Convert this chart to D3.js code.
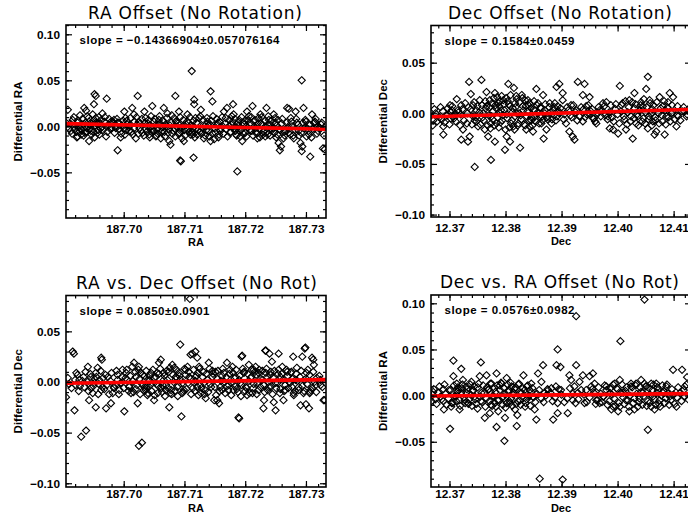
<!DOCTYPE html>
<html><head><meta charset="utf-8">
<script src="https://cdn.jsdelivr.net/npm/d3@7"></script>
<style>body{margin:0;background:#fff}svg{display:block}</style>
</head><body>
<svg id="c" width="688" height="518"></svg>
<script>
// ---------- DATA ----------
const titles = ["RA Offset (No Rotation)", "Dec Offset (No Rotation)", "RA vs. Dec Offset (No Rot)", "Dec vs. RA Offset (No Rot)"];
const xLabels = ["RA", "Dec", "RA", "Dec"];
const yLabels = ["Differential RA", "Differential Dec", "Differential Dec", "Differential RA"];
const slopeLabels = ["slope = \u22120.14366904\u00b10.057076164", "slope = 0.1584\u00b10.0459", "slope = 0.0850\u00b10.0901", "slope = 0.0576\u00b10.0982"];
const fitSlopes = [-0.14366904, 0.1584, 0.0850, 0.0576];
const fitZeroAt = [187.7113, 12.3886, 187.7058, 12.3750];
const xDomains = [[187.6905, 187.7333], [12.3667, 12.4131], [187.6905, 187.7333], [12.3667, 12.4131]];
const yDomains = [[-0.0996, 0.1101], [-0.1024, 0.0867], [-0.1037, 0.0854], [-0.0990, 0.1090]];
const raTicks = [187.70, 187.71, 187.72, 187.73];
const decTicks = [12.37, 12.38, 12.39, 12.40, 12.41];
const dRaTicks = [-0.05, 0.00, 0.05, 0.10];
const dDecTicks = [-0.10, -0.05, 0.00, 0.05];

const raOffsetPts = [
[187.6908,0.018],[187.6905,0.004],[187.6910,-0.002],[187.6916,0.007],[187.6913,-0.005],[187.6924,0.004],[187.6927,-0.005],[187.6930,-0.009],[187.6924,-0.011],[187.6935,0.020],[187.6938,0.017],[187.6940,0.011],[187.6943,0.005],[187.6939,-0.002],[187.6943,-0.016],[187.6946,-0.005],[187.6949,0.013],[187.6951,0.024],[187.6954,0.033],[187.6954,0.009],[187.6957,0.002],[187.6960,-0.009],[187.6962,-0.002],[187.6965,0.014],[187.6968,0.005],[187.6971,-0.011],[187.6972,0.030],[187.6979,0.005],[187.6984,0.007],[187.6987,-0.002],[187.6990,0.004],[187.6990,-0.026],[187.6995,-0.012],[187.7001,0.016],[187.7003,0.009],[187.7006,0.002],[187.7009,-0.005],[187.7014,0.020],[187.7017,0.013],[187.7017,-0.002],[187.7020,-0.013],[187.7025,0.005],[187.7028,-0.005],[187.7034,0.016],[187.7036,0.009],[187.7039,0.000],[187.7042,-0.009],[187.7047,0.022],[187.7050,0.005],[187.7053,-0.011],[187.7049,-0.005],[187.7055,-0.002],[187.7058,0.007],[187.7061,-0.013],[187.7064,-0.005],[187.7066,0.020],[187.7069,0.002],[187.7072,0.014],[187.7077,-0.020],[187.7075,-0.016],[187.7083,0.009],[187.7086,0.005],[187.7088,0.000],[187.7091,0.016],[187.7094,-0.005],[187.7096,-0.013],[187.7099,-0.016],[187.7093,-0.037],[187.7094,-0.038],[187.7105,0.013],[187.7107,0.004],[187.7110,-0.009],[187.7113,-0.002],[187.7115,-0.034],[187.7116,0.024],[187.7118,0.009],
[187.6952,0.035],[187.7023,0.033],[187.7085,0.033],[187.7112,0.060],[187.7143,0.038],[187.7293,0.050],[187.7293,-0.027],
[187.7116,0.029],[187.7127,0.018],[187.7124,0.009],[187.7130,-0.002],[187.7121,-0.009],[187.7132,-0.013],[187.7146,0.027],[187.7138,0.005],[187.7140,-0.005],[187.7143,-0.016],[187.7149,-0.014],[187.7154,0.002],[187.7157,-0.009],[187.7160,-0.002],[187.7165,0.016],[187.7168,0.009],[187.7170,0.020],[187.7173,0.000],[187.7180,0.024],[187.7179,0.005],[187.7181,0.013],[187.7184,-0.005],[187.7187,-0.002],[187.7190,0.007],[187.7192,-0.011],[187.7195,-0.016],[187.7198,0.002],[187.7203,0.016],[187.7206,0.011],[187.7212,0.022],[187.7209,-0.005],[187.7214,0.005],[187.7217,-0.002],[187.7220,-0.013],[187.7222,0.009],[187.7225,0.013],[187.7228,0.002],[187.7231,-0.005],[187.7233,-0.011],[187.7235,0.020],[187.7239,0.007],[187.7242,-0.002],[187.7247,0.013],[187.7250,0.004],[187.7253,-0.009],[187.7255,-0.018],[187.7257,-0.026],[187.7259,-0.022],[187.7263,-0.013],[187.7266,-0.005],[187.7269,0.020],[187.7272,0.019],[187.7275,0.009],[187.7277,0.000],[187.7280,-0.013],[187.7283,0.016],[187.7285,0.004],[187.7288,-0.005],[187.7291,-0.018],[187.7294,-0.022],[187.7296,0.020],[187.7299,0.007],[187.7302,-0.002],[187.7305,-0.009],[187.7307,-0.033],[187.7310,0.013],[187.7313,0.004],[187.7315,0.005],[187.7326,0.004],[187.7328,-0.024],[187.7187,-0.049],[187.7314,0.004],[187.7323,-0.002],[187.7331,-0.025],
[187.6920,-0.003],[187.6922,-0.006],[187.6926,-0.001],[187.6931,-0.004],[187.6933,0.002],[187.6936,-0.007],[187.6941,0.000],[187.6944,-0.003],[187.6948,0.003],[187.6950,-0.006],[187.6953,0.001],[187.6958,-0.004],[187.6961,0.003],[187.6964,-0.001],
[187.6975,0.001],[187.6980,-0.001],[187.6983,0.003],[187.6988,0.000],[187.6993,-0.003],[187.6997,0.001],[187.7000,-0.002],
[187.7004,-0.004],[187.7010,0.001],[187.7013,-0.006],[187.7022,0.002],[187.7026,-0.002],[187.7031,-0.007],
[187.7036,-0.003],[187.7040,0.003],[187.7044,-0.001],[187.7046,-0.006],[187.7052,0.001],[187.7056,-0.008],[187.7060,0.003],[187.7063,-0.001],[187.7067,-0.006],[187.7070,0.000],[187.7074,-0.003],[187.7078,0.004],[187.7080,-0.008],[187.7084,-0.002],[187.7089,0.003],[187.7092,-0.007],[187.7097,0.000],[187.7100,-0.004],[187.7103,0.002],[187.7108,-0.006],[187.7111,0.001],[187.7114,-0.009],[187.7119,-0.003],[187.7122,0.003],[187.7125,-0.006],
[187.7133,0.000],[187.7136,-0.004],[187.7142,0.002],[187.7146,-0.008],[187.7150,-0.002],[187.7155,0.004],[187.7159,-0.005],[187.7163,0.000],[187.7169,-0.003],
[187.7175,-0.007],[187.7177,0.002],[187.7182,-0.002],[187.7185,-0.009],[187.7189,0.001],[187.7193,-0.004],[187.7196,0.004],[187.7200,-0.007],[187.7204,-0.001],[187.7208,0.003],[187.7211,-0.005],[187.7215,0.000],[187.7219,-0.008],[187.7223,-0.003],[187.7226,0.003],[187.7230,-0.006],[187.7234,0.000],[187.7237,-0.009],[187.7240,0.002],[187.7244,-0.004],[187.7248,-0.007],[187.7252,0.001],[187.7256,-0.003],[187.7260,0.003],[187.7264,-0.006],
[187.7270,-0.001],[187.7274,-0.009],[187.7282,-0.004],[187.7287,0.002],[187.7292,-0.007],[187.7297,-0.002],[187.7300,0.005],[187.7304,-0.005],[187.7311,-0.003],[187.7318,-0.008],[187.7322,-0.001],
[187.6912,0.003],[187.6915,-0.008],[187.6918,0.010],[187.6921,0.001],[187.6923,-0.012],[187.6925,0.006],[187.6928,0.012],[187.6929,-0.002],[187.6932,0.008],[187.6934,-0.010],[187.6937,0.004],[187.6939,-0.006],[187.6942,0.009],[187.6945,0.001],[187.6947,-0.009],[187.6950,0.006],[187.6952,-0.012],[187.6955,0.004],[187.6957,-0.007],[187.6959,0.010],[187.6963,0.007],[187.6966,-0.004],[187.6969,0.010],[187.6973,-0.006],[187.6976,0.008],[187.6978,-0.003],[187.6982,0.005],[187.6985,-0.007],[187.6989,0.008],[187.6992,0.004],[187.6996,-0.008],[187.6999,0.006],[187.7002,-0.009],[187.7005,0.006],[187.7008,-0.001],[187.7011,0.009],[187.7015,-0.009],[187.7018,0.005],[187.7021,0.010],[187.7024,-0.008],[187.7027,0.003],[187.7030,0.008],[187.7033,-0.010],[187.7035,0.004],[187.7038,-0.006],[187.7041,0.007],[187.7043,-0.012],[187.7045,0.011],[187.7048,-0.003],[187.7051,0.008],[187.7054,-0.010],[187.7057,0.002],[187.7059,0.011],[187.7062,-0.006],[187.7065,0.006],[187.7068,-0.011],[187.7071,0.009],[187.7073,-0.007],[187.7076,0.001],[187.7079,0.012],[187.7082,-0.005],[187.7085,-0.011],[187.7087,0.006],[187.7090,-0.008],[187.7093,0.010],[187.7095,-0.002],[187.7098,0.007],[187.7101,-0.010],[187.7104,0.005],[187.7106,-0.003],[187.7109,0.010],[187.7112,-0.006],[187.7115,0.006],[187.7117,-0.012],[187.7120,0.004],[187.7123,-0.004],[187.7126,0.011],[187.7128,-0.008],[187.7131,0.007],[187.7134,-0.010],[187.7137,0.009],[187.7139,0.001],[187.7141,-0.011],[187.7144,0.006],[187.7147,0.011],[187.7151,-0.007],[187.7153,0.008],[187.7156,-0.012],[187.7158,0.005],[187.7162,0.010],[187.7164,-0.008],[187.7167,0.003],[187.7171,-0.011],[187.7174,0.007],[187.7176,-0.006],[187.7178,0.011],[187.7183,0.008],[187.7186,-0.010],[187.7188,0.004],[187.7191,-0.002],[187.7194,0.010],[187.7197,-0.008],[187.7199,0.006],[187.7202,-0.011],[187.7205,0.007],[187.7207,-0.004],[187.7210,0.010],[187.7213,-0.010],[187.7216,0.007],[187.7218,-0.006],[187.7221,0.003],[187.7224,-0.012],[187.7227,0.010],[187.7229,-0.009],[187.7232,0.006],[187.7236,-0.006],[187.7238,0.011],[187.7241,-0.010],[187.7243,0.006],[187.7246,-0.002],[187.7249,0.009],[187.7251,-0.012],[187.7254,0.007],[187.7258,-0.004],[187.7261,0.008],[187.7265,-0.010],[187.7268,0.004],[187.7271,-0.007],[187.7276,0.005],[187.7279,-0.010],[187.7284,0.008],[187.7289,-0.010],[187.7295,0.004],[187.7301,-0.011],[187.7306,0.002],[187.7309,-0.012],[187.7316,0.008],[187.7320,-0.005],[187.7325,0.002],[187.7330,-0.010]
];

const decOffsetPts = [
[12.3671,-0.007],[12.3689,-0.013],[12.3689,-0.021],[12.3701,0.008],[12.3704,0.003],[12.3713,0.014],[12.3710,0.000],[12.3707,-0.003],[12.3721,0.008],[12.3721,-0.026],[12.3724,-0.016],[12.3733,-0.028],[12.3736,-0.023],[12.3735,0.031],[12.3738,0.019],[12.3742,0.008],[12.3745,-0.007],[12.3745,-0.053],[12.3748,0.003],[12.3751,-0.013],[12.3754,0.013],[12.3757,0.033],[12.3760,0.000],[12.3763,-0.016],[12.3766,0.021],[12.3769,-0.023],[12.3766,0.007],[12.3772,0.013],[12.3774,-0.046],[12.3775,-0.003],[12.3781,0.020],[12.3781,-0.028],[12.3784,-0.010],[12.3787,0.010],[12.3790,0.000],[12.3792,0.003],[12.3796,0.013],[12.3799,-0.036],[12.3802,-0.023],[12.3805,0.029],[12.3808,-0.028],[12.3808,0.007],[12.3811,-0.007],[12.3814,-0.013],[12.3815,0.025],[12.3817,0.010],[12.3820,0.000],[12.3823,-0.010],[12.3826,-0.034],[12.3829,0.018],[12.3832,0.003],[12.3835,0.013],[12.3838,-0.003],[12.3841,0.008],[12.3843,-0.013],[12.3846,-0.007],[12.3849,-0.018],[12.3852,0.003],[12.3855,0.024],[12.3858,0.010],[12.3861,-0.003],[12.3864,-0.010],[12.3867,0.018],[12.3868,-0.025],[12.3870,0.000],[12.3873,-0.016],[12.3876,-0.003],[12.3879,0.010],[12.3882,-0.010],[12.3885,0.003],[12.3888,0.010],[12.3891,0.026],
[12.3670,-0.012],[12.3686,-0.006],[12.3696,-0.002],[12.3702,-0.005],
[12.3896,0.029],[12.3902,0.020],[12.3902,0.013],[12.3893,0.007],[12.3890,-0.007],[12.3896,0.000],[12.3908,-0.010],[12.3914,-0.018],[12.3920,-0.023],[12.3923,-0.026],[12.3929,0.031],[12.3941,0.029],[12.3938,0.018],[12.3950,0.016],[12.3917,0.008],[12.3926,0.003],[12.3932,-0.003],[12.3938,-0.008],[12.3944,0.007],[12.3950,0.000],[12.3956,-0.005],[12.3962,-0.010],[12.3968,0.003],[12.3974,0.010],[12.3980,0.011],[12.3983,-0.003],[12.3986,-0.015],[12.3992,-0.016],[12.4001,-0.020],[12.4004,0.027],[12.4009,0.010],[12.4015,-0.016],[12.4021,0.013],[12.4027,-0.025],[12.4030,0.020],[12.4033,-0.010],[12.4036,-0.003],[12.4039,0.003],[12.4042,0.011],[12.4045,0.007],[12.4051,0.024],[12.4054,0.036],[12.4054,-0.015],[12.4057,0.013],[12.4060,0.000],[12.4063,-0.008],[12.4066,-0.021],[12.4069,-0.018],[12.4075,0.016],[12.4081,0.007],[12.4084,-0.021],[12.4087,-0.003],[12.4090,0.011],[12.4093,0.020],[12.4096,0.000],[12.4099,0.016],[12.4105,-0.013],[12.4108,-0.003],[12.4119,0.002],[12.4123,-0.003],
[12.3665,-0.003],[12.3675,0.000],[12.3682,-0.004],[12.3688,0.002],[12.3695,-0.002],[12.3702,0.001],[12.3708,-0.005],[12.3715,0.003],[12.3720,-0.001],[12.3726,-0.007],[12.3732,0.000],[12.3738,0.004],[12.3742,-0.003],[12.3748,-0.008],[12.3753,0.001],[12.3759,-0.004],[12.3765,0.005],[12.3770,-0.002],[12.3774,-0.010],[12.3778,0.002],[12.3782,0.008],[12.3786,-0.004],[12.3790,0.012],[12.3794,-0.007],[12.3798,0.003],[12.3802,-0.001],[12.3806,0.009],[12.3810,-0.010],[12.3813,0.005],[12.3817,-0.003],[12.3820,0.014],[12.3824,0.000],[12.3828,-0.006],[12.3831,0.007],[12.3835,-0.012],[12.3839,0.002],[12.3843,0.010],[12.3846,-0.004],[12.3850,0.004],[12.3854,-0.008],[12.3858,0.000],[12.3862,0.006],[12.3865,-0.003],[12.3870,0.003],[12.3875,-0.006],[12.3880,0.001],[12.3886,-0.002],[12.3895,0.002],[12.3905,-0.001],[12.3912,0.003],[12.3918,-0.004],[12.3925,0.001],[12.3932,-0.003],[12.3939,0.004],[12.3945,-0.001],[12.3952,0.002],[12.3958,-0.005],[12.3965,0.000],[12.3972,0.003],[12.3978,-0.002],[12.3985,0.001],[12.3990,-0.004],[12.3996,0.004],[12.4000,-0.001],[12.4006,0.002],[12.4012,-0.006],[12.4018,0.001],[12.4024,-0.003],[12.4030,0.005],[12.4035,-0.001],[12.4040,0.003],[12.4046,-0.005],[12.4050,0.001],[12.4056,-0.003],[12.4062,0.004],[12.4068,-0.007],[12.4073,0.000],[12.4079,-0.002],[12.4085,0.003],[12.4091,-0.004],[12.4098,0.001],[12.4106,-0.002],[12.4115,0.002],[12.4124,-0.001],
[12.3673,0.004],[12.3678,-0.008],[12.3684,0.006],[12.3691,-0.009],[12.3697,0.005],[12.3700,-0.011],[12.3705,0.007],[12.3711,-0.008],[12.3716,0.001],[12.3719,-0.012],[12.3723,0.004],[12.3728,0.010],[12.3731,-0.010],[12.3734,0.006],[12.3740,-0.011],[12.3744,0.011],[12.3747,-0.004],[12.3750,0.007],[12.3755,-0.011],[12.3758,0.008],[12.3761,-0.007],[12.3764,0.012],[12.3768,-0.012],[12.3771,0.006],[12.3773,-0.015],[12.3776,0.010],[12.3777,-0.006],[12.3779,0.015],[12.3780,-0.012],[12.3783,0.005],[12.3785,0.016],[12.3788,-0.014],[12.3789,0.007],[12.3791,-0.009],[12.3793,0.017],[12.3795,-0.002],[12.3797,0.009],[12.3800,-0.016],[12.3801,0.015],[12.3803,-0.005],[12.3804,0.012],[12.3807,-0.014],[12.3809,0.018],[12.3812,0.001],[12.3816,-0.016],[12.3818,0.006],[12.3819,0.017],[12.3822,-0.012],[12.3825,0.011],[12.3827,-0.002],[12.3830,0.015],[12.3833,-0.011],[12.3836,0.007],[12.3837,-0.016],[12.3840,0.013],[12.3842,-0.007],[12.3845,0.005],[12.3848,-0.012],[12.3851,0.012],[12.3853,-0.003],[12.3856,0.008],[12.3860,-0.010],[12.3863,0.005],[12.3866,-0.007],[12.3871,0.009],[12.3874,-0.004],[12.3878,0.006],[12.3883,-0.006],[12.3887,0.006],[12.3892,-0.003],[12.3898,0.005],[12.3904,-0.006],[12.3910,0.006],[12.3916,-0.002],[12.3921,0.008],[12.3928,-0.007],[12.3935,0.006],[12.3942,-0.004],[12.3948,0.008],[12.3955,0.004],[12.3960,-0.008],[12.3966,0.006],[12.3970,-0.003],[12.3976,0.007],[12.3982,-0.006],[12.3988,0.008],[12.3993,-0.008],[12.3997,0.009],[12.4003,-0.010],[12.4007,0.008],[12.4011,-0.003],[12.4014,0.012],[12.4017,-0.011],[12.4020,0.006],[12.4023,-0.008],[12.4026,0.011],[12.4029,-0.005],[12.4032,0.009],[12.4037,-0.012],[12.4041,0.008],[12.4044,-0.008],[12.4047,0.014],[12.4049,-0.010],[12.4052,0.006],[12.4055,-0.006],[12.4058,0.010],[12.4061,-0.012],[12.4064,0.008],[12.4067,-0.004],[12.4070,0.011],[12.4074,-0.010],[12.4077,0.005],[12.4080,-0.008],[12.4083,0.012],[12.4086,-0.011],[12.4089,0.006],[12.4094,-0.008],[12.4097,0.008],[12.4102,-0.006],[12.4107,0.007],[12.4112,-0.007],[12.4118,0.006],[12.4126,0.004]
];

const raDecPts = [
[187.6905,-0.015],[187.6916,0.030],[187.6918,0.028],[187.6919,-0.028],[187.6924,0.007],[187.6927,0.002],[187.6921,-0.003],[187.6930,-0.054],[187.6938,-0.048],[187.6935,-0.005],[187.6941,0.015],[187.6943,-0.018],[187.6946,0.005],[187.6949,-0.011],[187.6952,-0.001],[187.6954,-0.025],[187.6954,0.009],[187.6957,0.014],[187.6960,0.002],[187.6963,0.024],[187.6963,-0.008],[187.6965,-0.005],[187.6971,-0.026],[187.6974,0.005],[187.6979,-0.021],[187.6982,-0.011],[187.6984,-0.005],[187.6990,0.007],[187.6993,-0.008],[187.6995,-0.001],[187.6998,0.012],[187.7001,-0.029],[187.7004,0.009],[187.7006,0.002],[187.7009,-0.005],[187.7012,-0.011],[187.7014,0.015],[187.7017,0.019],[187.7020,0.005],[187.7023,-0.021],[187.7025,0.015],[187.7028,0.009],[187.7034,-0.005],[187.7036,-0.008],[187.7039,-0.013],[187.7042,0.002],[187.7045,0.009],[187.7047,-0.001],[187.7050,-0.018],[187.7053,0.005],[187.7056,-0.011],[187.7058,0.019],[187.7061,0.022],[187.7064,-0.003],[187.7066,0.009],[187.7069,-0.008],[187.7072,0.002],[187.7075,-0.025],[187.7077,-0.011],[187.7080,0.017],[187.7083,0.014],[187.7086,0.005],[187.7088,-0.005],[187.7091,0.009],[187.7093,0.037],[187.7095,-0.034],[187.7097,-0.001],[187.7099,-0.008],[187.7102,0.012],[187.7105,0.015],[187.7108,0.005],[187.7110,0.027],[187.7113,0.028],[187.7116,-0.001],
[187.7109,0.082],[187.7025,-0.063],[187.7030,-0.060],[187.6964,0.022],[187.7189,-0.035],[187.7194,0.025],[187.7234,0.031],[187.7240,0.028],[187.7298,0.033],[187.7279,0.025],[187.7312,0.022],[187.7230,-0.026],[187.7250,-0.028],[187.7300,-0.022],[187.7306,-0.011],[187.7331,-0.018],
[187.7118,0.030],[187.7121,0.024],[187.7124,0.015],[187.7118,0.005],[187.7121,-0.005],[187.7127,-0.011],[187.7132,-0.001],[187.7135,-0.016],[187.7140,0.019],[187.7146,0.005],[187.7149,-0.018],[187.7151,0.010],[187.7154,-0.018],[187.7157,-0.021],[187.7160,0.001],[187.7162,-0.008],[187.7165,0.009],[187.7170,0.019],[187.7173,-0.003],[187.7179,0.015],[187.7181,-0.008],[187.7184,0.005],[187.7190,-0.036],[187.7192,-0.001],[187.7195,0.026],[187.7198,0.009],[187.7201,-0.005],[187.7203,-0.013],[187.7206,0.017],[187.7209,0.004],[187.7212,-0.011],[187.7214,0.012],[187.7217,0.015],[187.7220,-0.001],[187.7222,0.009],[187.7228,0.002],[187.7231,-0.018],[187.7233,0.031],[187.7236,0.005],[187.7239,-0.005],[187.7242,0.010],[187.7244,0.020],[187.7247,-0.020],[187.7253,-0.001],[187.7255,0.028],[187.7258,0.005],[187.7261,0.015],[187.7263,-0.018],[187.7266,-0.008],[187.7269,0.010],[187.7272,0.000],[187.7275,0.009],[187.7277,-0.005],[187.7280,-0.013],[187.7283,0.002],[187.7285,0.014],[187.7288,-0.005],[187.7291,-0.023],[187.7294,0.025],[187.7296,-0.011],[187.7299,0.034],[187.7301,0.009],[187.7305,-0.026],[187.7307,-0.010],[187.7310,0.024],[187.7313,0.017],[187.7316,-0.003],[187.7324,0.002],[187.7329,-0.018],
[187.6910,-0.002],[187.6920,0.002],[187.6928,-0.004],[187.6934,0.005],[187.6940,0.000],[187.6946,-0.006],[187.6952,0.003],[187.6959,-0.002],[187.6966,0.004],[187.6972,-0.003],[187.6978,0.001],[187.6984,-0.006],[187.6990,0.002],[187.6996,-0.001],[187.7003,0.004],[187.7009,-0.004],[187.7015,0.001],[187.7020,-0.007],[187.7026,0.003],[187.7030,-0.002],[187.7034,0.006],[187.7038,-0.005],[187.7042,0.001],[187.7046,-0.009],[187.7050,0.004],[187.7054,-0.002],[187.7058,0.008],[187.7062,-0.006],[187.7066,0.002],[187.7070,-0.003],[187.7074,0.010],[187.7078,-0.008],[187.7082,0.000],[187.7086,0.005],[187.7090,-0.004],[187.7094,0.002],[187.7098,-0.010],[187.7102,0.007],[187.7106,-0.001],[187.7110,0.003],[187.7114,-0.006],[187.7118,0.001],[187.7122,0.009],[187.7126,-0.003],[187.7130,0.005],[187.7134,-0.008],[187.7138,0.002],[187.7142,-0.002],[187.7146,0.011],[187.7150,-0.005],[187.7154,0.003],[187.7158,-0.009],[187.7162,0.006],[187.7166,0.000],[187.7170,-0.004],[187.7174,0.008],[187.7178,-0.001],[187.7182,0.004],[187.7186,-0.007],[187.7190,0.002],[187.7194,-0.003],[187.7198,0.010],[187.7202,-0.006],[187.7206,0.001],[187.7210,0.005],[187.7214,-0.002],[187.7218,0.007],[187.7222,-0.008],[187.7226,0.003],[187.7230,-0.003],[187.7234,0.009],[187.7238,0.000],[187.7242,-0.005],[187.7246,0.004],[187.7250,-0.001],[187.7254,0.008],[187.7258,-0.007],[187.7262,0.002],[187.7266,-0.003],[187.7270,0.006],[187.7274,-0.001],[187.7278,0.003],[187.7282,-0.009],[187.7286,0.001],[187.7290,0.005],[187.7294,-0.004],[187.7298,0.002],[187.7302,-0.002],[187.7306,0.007],[187.7310,-0.006],[187.7314,0.000],[187.7318,0.004],[187.7324,-0.003],
[187.6908,0.004],[187.6914,-0.006],[187.6922,0.009],[187.6926,-0.009],[187.6932,0.001],[187.6937,0.010],[187.6942,-0.009],[187.6945,0.008],[187.6950,-0.004],[187.6955,0.005],[187.6958,-0.012],[187.6962,0.011],[187.6968,-0.007],[187.6970,0.007],[187.6976,-0.012],[187.6980,0.009],[187.6986,-0.003],[187.6988,0.011],[187.6992,-0.012],[187.6997,0.005],[187.7000,-0.006],[187.7005,0.012],[187.7008,-0.009],[187.7011,0.006],[187.7016,-0.010],[187.7019,0.010],[187.7022,-0.003],[187.7024,0.012],[187.7027,-0.012],[187.7031,0.007],[187.7033,-0.008],[187.7037,0.011],[187.7040,-0.011],[187.7043,0.006],[187.7044,-0.003],[187.7048,0.012],[187.7051,-0.013],[187.7055,0.009],[187.7057,-0.004],[187.7060,0.013],[187.7063,-0.010],[187.7067,0.006],[187.7068,-0.014],[187.7071,0.011],[187.7073,-0.006],[187.7076,0.014],[187.7079,-0.012],[187.7081,0.007],[187.7084,-0.009],[187.7087,0.012],[187.7089,-0.014],[187.7092,0.006],[187.7096,-0.011],[187.7100,0.013],[187.7103,-0.007],[187.7107,0.010],[187.7111,-0.012],[187.7115,0.012],[187.7117,-0.009],[187.7120,0.006],[187.7123,-0.013],[187.7125,0.013],[187.7128,-0.006],[187.7131,0.010],[187.7133,-0.012],[187.7136,0.008],[187.7139,-0.010],[187.7141,0.013],[187.7144,-0.005],[187.7147,0.008],[187.7152,-0.013],[187.7155,0.011],[187.7159,-0.005],[187.7163,0.013],[187.7167,-0.011],[187.7169,0.005],[187.7172,-0.008],[187.7175,0.012],[187.7177,-0.013],[187.7180,0.009],[187.7183,-0.004],[187.7185,0.012],[187.7188,-0.010],[187.7191,0.006],[187.7193,-0.014],[187.7196,0.013],[187.7200,-0.009],[187.7204,0.008],[187.7207,-0.011],[187.7211,0.012],[187.7213,-0.006],[187.7216,0.010],[187.7219,-0.012],[187.7223,0.012],[187.7225,-0.005],[187.7228,0.011],[187.7232,-0.010],[187.7235,0.013],[187.7237,-0.008],[187.7241,0.007],[187.7245,-0.012],[187.7248,0.011],[187.7251,-0.006],[187.7255,0.012],[187.7257,-0.011],[187.7260,0.008],[187.7264,-0.009],[187.7268,0.012],[187.7271,-0.006],[187.7276,0.010],[187.7280,-0.011],[187.7284,0.008],[187.7288,-0.008],[187.7292,0.011],[187.7297,-0.009],[187.7303,0.012],[187.7308,-0.008],[187.7312,0.010],[187.7317,-0.010],[187.7322,0.006],[187.7327,-0.005]
];

const decRaPts = [
[12.3668,-0.006],[12.3671,0.004],[12.3689,0.007],[12.3690,-0.015],[12.3701,-0.036],[12.3707,0.038],[12.3721,0.029],[12.3704,-0.008],[12.3707,0.021],[12.3710,-0.001],[12.3713,0.013],[12.3716,0.006],[12.3718,-0.015],[12.3721,0.003],[12.3724,0.017],[12.3727,-0.005],[12.3730,0.010],[12.3733,-0.008],[12.3739,0.015],[12.3742,0.006],[12.3745,-0.001],[12.3750,-0.014],[12.3756,0.036],[12.3754,0.021],[12.3757,0.003],[12.3763,-0.024],[12.3766,0.022],[12.3769,0.006],[12.3772,-0.019],[12.3775,0.013],[12.3778,-0.001],[12.3781,-0.008],[12.3784,0.024],[12.3784,-0.034],[12.3787,-0.017],[12.3790,0.006],[12.3793,0.013],[12.3796,-0.001],[12.3799,-0.024],[12.3798,-0.049],[12.3802,0.019],[12.3805,0.004],[12.3808,-0.008],[12.3811,0.010],[12.3814,0.003],[12.3817,-0.015],[12.3820,-0.033],[12.3821,-0.021],[12.3823,0.012],[12.3826,-0.005],[12.3829,0.003],[12.3832,0.022],[12.3835,-0.012],[12.3838,0.010],[12.3841,-0.001],[12.3843,0.006],[12.3846,0.013],[12.3849,-0.001],[12.3852,-0.015],[12.3855,-0.026],[12.3858,0.024],[12.3864,0.015],[12.3867,0.033],[12.3870,0.003],[12.3876,0.006],[12.3882,0.008],[12.3885,-0.026],[12.3891,0.033],
[12.3861,-0.090],[12.3902,-0.091],[12.3893,0.050],[12.3898,0.031],[12.3926,0.086],[12.4048,0.104],[12.4005,0.059],[12.4115,0.028],[12.4124,0.020],
[12.3890,0.010],[12.3899,0.006],[12.3893,-0.008],[12.3893,-0.019],[12.3911,-0.019],[12.3914,0.022],[12.3917,0.017],[12.3920,-0.005],[12.3923,0.010],[12.3926,0.033],[12.3929,0.003],[12.3932,0.015],[12.3938,0.022],[12.3941,-0.008],[12.3944,0.006],[12.3950,0.021],[12.3953,0.010],[12.3956,0.024],[12.3959,0.013],[12.3962,-0.005],[12.3968,-0.008],[12.3974,-0.001],[12.3980,0.010],[12.3986,0.003],[12.3989,-0.015],[12.3992,-0.012],[12.3995,0.013],[12.4001,-0.017],[12.4004,0.017],[12.4010,0.003],[12.4015,-0.005],[12.4021,-0.017],[12.4024,0.010],[12.4030,-0.015],[12.4033,0.013],[12.4039,-0.003],[12.4042,0.017],[12.4045,0.003],[12.4051,0.010],[12.4054,-0.037],[12.4057,-0.008],[12.4060,0.013],[12.4063,-0.001],[12.4066,-0.015],[12.4069,0.013],[12.4072,0.006],[12.4075,-0.005],[12.4081,0.003],[12.4087,0.010],[12.4093,-0.001],[12.4099,0.028],[12.4105,-0.012],[12.4120,0.010],[12.4123,0.012],
[12.3670,0.001],[12.3675,-0.004],[12.3680,0.003],[12.3684,-0.001],[12.3689,-0.006],[12.3693,0.002],[12.3698,-0.003],[12.3702,0.006],[12.3706,-0.008],[12.3710,0.000],[12.3714,0.004],[12.3718,-0.005],[12.3722,0.008],[12.3726,-0.002],[12.3730,0.003],[12.3734,-0.009],[12.3738,0.001],[12.3742,0.005],[12.3746,-0.004],[12.3750,0.009],[12.3754,-0.001],[12.3758,-0.007],[12.3762,0.003],[12.3766,-0.003],[12.3770,0.007],[12.3774,-0.010],[12.3778,0.000],[12.3782,0.004],[12.3786,-0.005],[12.3790,0.011],[12.3794,-0.002],[12.3798,0.002],[12.3802,-0.008],[12.3806,0.006],[12.3810,-0.003],[12.3814,0.001],[12.3818,0.009],[12.3822,-0.006],[12.3826,0.003],[12.3830,-0.001],[12.3834,0.006],[12.3838,-0.004],[12.3842,0.000],[12.3846,0.004],[12.3850,-0.002],[12.3856,0.002],[12.3864,-0.003],[12.3872,0.000],[12.3880,0.003],[12.3888,-0.002],[12.3900,0.001],[12.3910,-0.003],[12.3920,0.002],[12.3930,-0.004],[12.3940,0.001],[12.3950,-0.002],[12.3958,0.003],[12.3964,-0.005],[12.3970,0.002],[12.3975,-0.001],[12.3980,0.006],[12.3985,-0.006],[12.3990,0.001],[12.3994,-0.003],[12.3998,0.008],[12.4002,-0.008],[12.4006,0.003],[12.4010,-0.002],[12.4014,0.005],[12.4018,-0.005],[12.4022,0.000],[12.4026,0.009],[12.4030,-0.003],[12.4034,0.002],[12.4038,-0.007],[12.4042,0.004],[12.4046,-0.001],[12.4050,0.010],[12.4054,-0.006],[12.4058,0.001],[12.4062,0.006],[12.4066,-0.004],[12.4070,0.003],[12.4074,-0.009],[12.4078,0.000],[12.4082,0.005],[12.4086,-0.003],[12.4090,0.002],[12.4095,-0.005],[12.4100,0.001],[12.4106,-0.002],[12.4112,0.003],[12.4120,-0.001],
[12.3672,0.007],[12.3677,-0.009],[12.3682,0.010],[12.3686,-0.004],[12.3691,0.012],[12.3695,-0.010],[12.3699,0.006],[12.3703,-0.012],[12.3708,0.011],[12.3712,-0.006],[12.3715,0.009],[12.3719,-0.011],[12.3723,0.012],[12.3728,-0.008],[12.3731,0.007],[12.3735,-0.004],[12.3737,0.012],[12.3740,-0.011],[12.3744,0.010],[12.3748,-0.009],[12.3752,0.013],[12.3756,-0.006],[12.3760,0.011],[12.3764,-0.012],[12.3767,0.009],[12.3771,-0.006],[12.3773,0.013],[12.3776,-0.011],[12.3780,0.008],[12.3783,-0.012],[12.3785,0.011],[12.3788,-0.005],[12.3792,0.014],[12.3795,-0.010],[12.3797,0.008],[12.3800,-0.013],[12.3804,0.012],[12.3807,-0.006],[12.3809,0.014],[12.3812,-0.011],[12.3816,0.007],[12.3819,-0.009],[12.3824,0.013],[12.3827,-0.010],[12.3831,0.008],[12.3836,-0.008],[12.3840,0.011],[12.3844,-0.011],[12.3848,0.008],[12.3853,-0.007],[12.3860,0.006],[12.3868,-0.007],[12.3875,0.007],[12.3884,-0.006],[12.3895,0.007],[12.3905,-0.007],[12.3915,0.008],[12.3925,-0.008],[12.3935,0.006],[12.3945,-0.007],[12.3955,0.007],[12.3961,-0.009],[12.3966,0.009],[12.3972,-0.007],[12.3977,0.011],[12.3982,-0.010],[12.3987,0.008],[12.3992,0.012],[12.3996,-0.011],[12.4000,0.007],[12.4004,-0.012],[12.4008,0.012],[12.4012,-0.009],[12.4016,0.009],[12.4020,-0.012],[12.4024,0.013],[12.4028,-0.008],[12.4032,0.011],[12.4036,-0.012],[12.4040,0.009],[12.4044,-0.010],[12.4048,0.013],[12.4052,-0.011],[12.4056,0.008],[12.4060,-0.012],[12.4064,0.012],[12.4068,-0.010],[12.4071,0.009],[12.4076,-0.012],[12.4080,0.011],[12.4084,-0.008],[12.4088,0.012],[12.4092,-0.010],[12.4097,0.007],[12.4102,-0.009],[12.4108,0.009],[12.4114,-0.006],[12.4118,0.006],[12.4126,-0.004]
];

const panelPoints = [raOffsetPts, decOffsetPts, raDecPts, decRaPts];
const panelXTicks = [raTicks, decTicks, raTicks, decTicks];
const panelYTicks = [dRaTicks, dDecTicks, dDecTicks, dRaTicks];

// ---------- LAYOUT ----------
const boxes = [
  {x0: 66, x1: 326, y0: 25, y1: 218},
  {x0: 431, x1: 691, y0: 25.5, y1: 217},
  {x0: 66, x1: 326, y0: 295.5, y1: 487},
  {x0: 431, x1: 691, y0: 295, y1: 487}
];
const titleLayout = [
  {cx: 195, y: 19, w: 214}, {cx: 560, y: 19, w: 224},
  {cx: 196.5, y: 289, w: 241}, {cx: 559.5, y: 288, w: 239}
];
const slopeWidths = [200, 130, 130, 130];
const xTickPad = [6.5, 6.5, 2.5, 2.5];
const xTitleDy = [28, 28, 25, 25];

const svg = d3.select("#c");
const defs = svg.append("defs");
const fmt = d3.format(".2f");
const boldFont = "'Liberation Sans', Arial, Helvetica, sans-serif";

boxes.forEach((b, i) => {
  const x = d3.scaleLinear().domain(xDomains[i]).range([b.x0, b.x1]);
  const y = d3.scaleLinear().domain(yDomains[i]).range([b.y1, b.y0]);

  defs.append("clipPath").attr("id", "clip" + i).append("rect")
    .attr("x", b.x0).attr("y", b.y0).attr("width", b.x1 - b.x0).attr("height", b.y1 - b.y0);

  const g = svg.append("g").attr("clip-path", `url(#clip${i})`);
  g.append("line")
    .attr("x1", b.x0).attr("x2", b.x1).attr("y1", y(0)).attr("y2", y(0))
    .attr("stroke", "#808080").attr("stroke-width", 1.5);

  const r = 3.6;
  g.selectAll("path.pt").data(panelPoints[i]).join("path")
    .attr("class", "pt")
    .attr("d", d => {
      const cx = x(d[0]), cy = y(d[1]);
      return `M${cx},${cy - r}L${cx + r},${cy}L${cx},${cy + r}L${cx - r},${cy}Z`;
    })
    .attr("fill", "none").attr("stroke", "#000").attr("stroke-width", 1.1);

  const xd = xDomains[i];
  const fit = v => fitSlopes[i] * (v - fitZeroAt[i]);
  g.append("line")
    .attr("x1", x(xd[0])).attr("x2", x(xd[1]))
    .attr("y1", y(fit(xd[0]))).attr("y2", y(fit(xd[1])))
    .attr("stroke", "#ff0000").attr("stroke-width", 3.6);

  const xStep = 0.002, yStep = 0.01;
  const xMinor = d3.range(Math.ceil(xd[0] / xStep), Math.floor(xd[1] / xStep) + 1).map(k => k * xStep);
  const yd = yDomains[i];
  const yMinor = d3.range(Math.ceil(yd[0] / yStep), Math.floor(yd[1] / yStep) + 1).map(k => k * yStep);

  function styleAxis(sel) {
    sel.select(".domain").remove();
    sel.selectAll(".tick line").attr("stroke", "#000").attr("stroke-width", 1.2);
    sel.attr("font-family", boldFont).attr("font-size", 11.8).attr("font-weight", "bold");
    sel.selectAll(".tick text").attr("fill", "#000");
  }

  svg.append("g").attr("transform", `translate(0,${b.y1})`)
    .call(d3.axisBottom(x).tickValues(xMinor).tickSize(-3).tickFormat("")).call(styleAxis);
  svg.append("g").attr("transform", `translate(0,${b.y0})`)
    .call(d3.axisTop(x).tickValues(xMinor).tickSize(-3).tickFormat("")).call(styleAxis);
  svg.append("g").attr("transform", `translate(${b.x0},0)`)
    .call(d3.axisLeft(y).tickValues(yMinor).tickSize(-3).tickFormat("")).call(styleAxis);
  svg.append("g").attr("transform", `translate(${b.x1},0)`)
    .call(d3.axisRight(y).tickValues(yMinor).tickSize(-3).tickFormat("")).call(styleAxis);

  const xMaj = panelXTicks[i], yMaj = panelYTicks[i];
  svg.append("g").attr("transform", `translate(0,${b.y1})`)
    .call(d3.axisBottom(x).tickValues(xMaj).tickSize(-6).tickPadding(xTickPad[i]).tickFormat(fmt)).call(styleAxis);
  svg.append("g").attr("transform", `translate(0,${b.y0})`)
    .call(d3.axisTop(x).tickValues(xMaj).tickSize(-6).tickFormat("")).call(styleAxis);
  svg.append("g").attr("transform", `translate(${b.x0},0)`)
    .call(d3.axisLeft(y).tickValues(yMaj).tickSize(-6).tickPadding(6).tickFormat(fmt)).call(styleAxis);
  svg.append("g").attr("transform", `translate(${b.x1},0)`)
    .call(d3.axisRight(y).tickValues(yMaj).tickSize(-6).tickFormat("")).call(styleAxis);

  svg.append("rect").attr("x", b.x0).attr("y", b.y0)
    .attr("width", b.x1 - b.x0).attr("height", b.y1 - b.y0)
    .attr("fill", "none").attr("stroke", "#000").attr("stroke-width", 1.6);

  const t = titleLayout[i];
  svg.append("text").attr("x", t.cx).attr("y", t.y).attr("text-anchor", "middle")
    .attr("font-family", "'DejaVu Sans', sans-serif").attr("font-size", 17)
    .attr("textLength", t.w).attr("lengthAdjust", "spacing")
    .attr("fill", "#000").text(titles[i]);

  svg.append("text").attr("x", b.x0 + 13.5).attr("y", b.y0 + 19)
    .attr("font-family", boldFont).attr("font-size", 11.5).attr("font-weight", "bold")
    .attr("textLength", slopeWidths[i]).attr("lengthAdjust", "spacing")
    .attr("fill", "#000").text(slopeLabels[i]);

  svg.append("text").attr("x", (b.x0 + b.x1) / 2).attr("y", b.y1 + xTitleDy[i])
    .attr("text-anchor", "middle").attr("font-family", boldFont).attr("font-size", 11)
    .attr("font-weight", "bold").attr("fill", "#000").text(xLabels[i]);

  const ly = (b.y0 + b.y1) / 2, lx = b.x0 - 44;
  svg.append("text").attr("transform", `translate(${lx},${ly}) rotate(-90)`)
    .attr("text-anchor", "middle").attr("font-family", boldFont).attr("font-size", 11.5)
    .attr("font-weight", "bold").attr("fill", "#000").text(yLabels[i]);
});
</script>
</body></html>
